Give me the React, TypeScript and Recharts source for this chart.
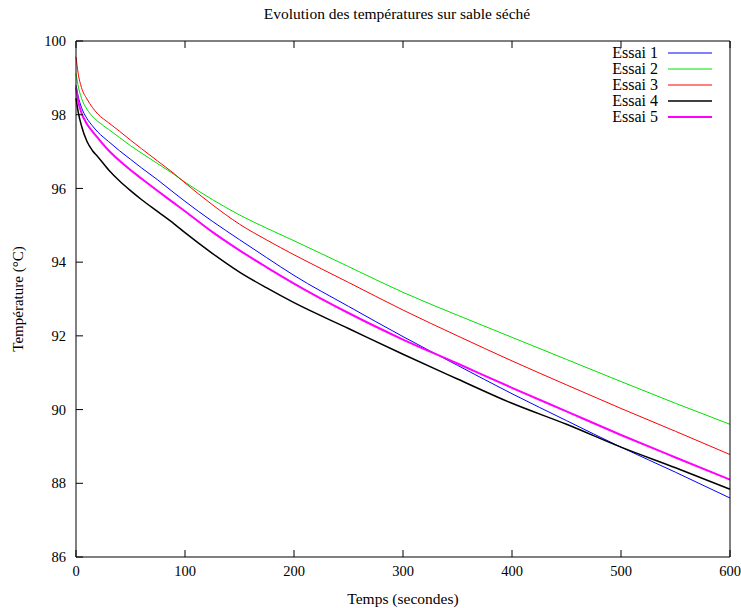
import { Legend, Line, LineChart, XAxis, YAxis } from "recharts";

const FONT = "'Liberation Serif', 'DejaVu Serif', serif";

// cadre du tracé (px) : sert aux petites graduations intérieures façon gnuplot
const PLOT = { left: 76, right: 730, top: 41, bottom: 557 };
const TICK = 7;

// Temps (s) des points relevés
const temps = [
  0, 2, 5, 10, 15, 20, 30, 40, 50, 60, 75, 90, 100, 125, 150, 175, 200, 250,
  300, 350, 400, 450, 500, 550, 600,
];

// Températures (°C) par essai
const essai1 = [
  98.8, 98.5, 98.2, 97.9, 97.7, 97.53, 97.27, 97.02, 96.79, 96.56, 96.23, 95.88,
  95.65, 95.11, 94.61, 94.12, 93.64, 92.8, 91.98, 91.2, 90.43, 89.7, 88.98,
  88.3, 87.6,
];
const essai2 = [
  99.12, 98.78, 98.45, 98.15, 97.96, 97.82, 97.6, 97.38, 97.16, 96.96, 96.67,
  96.38, 96.17, 95.7, 95.28, 94.92, 94.58, 93.88, 93.18, 92.56, 91.96, 91.36,
  90.76, 90.17, 89.6,
];
const essai3 = [
  99.57, 99.12, 98.74, 98.43, 98.2, 98.02, 97.78, 97.55, 97.31, 97.08, 96.74,
  96.4, 96.15, 95.56, 95.03, 94.6, 94.2, 93.45, 92.7, 92.0, 91.32, 90.67,
  90.03, 89.41, 88.78,
];
const essai4 = [
  98.45, 98.08, 97.7, 97.28, 97.03, 96.86, 96.5, 96.2, 95.94, 95.7, 95.37,
  95.04, 94.8, 94.24, 93.73, 93.3, 92.9, 92.2, 91.5, 90.83, 90.17, 89.6,
  88.98, 88.42, 87.84,
];
const essai5 = [
  98.74, 98.37, 98.05, 97.75, 97.55, 97.37, 97.03, 96.75, 96.5, 96.27, 95.93,
  95.6, 95.38, 94.82, 94.32, 93.86, 93.42, 92.62, 91.9, 91.25, 90.59, 89.95,
  89.31, 88.7, 88.1,
];

const xTicks = [0, 100, 200, 300, 400, 500, 600];
const yTicks = [86, 88, 90, 92, 94, 96, 98, 100];

const series = [
  { key: "essai1", name: "Essai 1", values: essai1, color: "#0000ff", width: 1 },
  { key: "essai2", name: "Essai 2", values: essai2, color: "#00e000", width: 1 },
  { key: "essai3", name: "Essai 3", values: essai3, color: "#ff0000", width: 1 },
  { key: "essai4", name: "Essai 4", values: essai4, color: "#000000", width: 1.5 },
  { key: "essai5", name: "Essai 5", values: essai5, color: "#ff00ff", width: 2 },
];

const data = temps.map((t, i) => {
  const row: Record<string, number> = { t };
  series.forEach((s) => {
    row[s.key] = s.values[i];
  });
  return row;
});

const textStyle = { fontSize: 14.5, fill: "#000", fontFamily: FONT };

interface TickProps {
  x?: number;
  y?: number;
  payload?: { value: number; coordinate: number };
}

function BottomTick({ x = 0, y = 0, payload }: TickProps) {
  return (
    <g>
      <line
        x1={x}
        y1={PLOT.bottom}
        x2={x}
        y2={PLOT.bottom - TICK}
        stroke="#000"
        strokeWidth={1}
      />
      <text x={x} y={y} dy="0.71em" textAnchor="middle" {...textStyle}>
        {payload?.value}
      </text>
    </g>
  );
}

function TopTick({ x = 0 }: TickProps) {
  return (
    <line
      x1={x}
      y1={PLOT.top}
      x2={x}
      y2={PLOT.top + TICK}
      stroke="#000"
      strokeWidth={1}
    />
  );
}

function LeftTick({ x = 0, y = 0, payload }: TickProps) {
  return (
    <g>
      <line
        x1={PLOT.left}
        y1={y}
        x2={PLOT.left + TICK}
        y2={y}
        stroke="#000"
        strokeWidth={1}
      />
      <text x={x} y={y} dy="0.355em" textAnchor="end" {...textStyle}>
        {payload?.value}
      </text>
    </g>
  );
}

function RightTick({ y = 0 }: TickProps) {
  return (
    <line
      x1={PLOT.right}
      y1={y}
      x2={PLOT.right - TICK}
      y2={y}
      stroke="#000"
      strokeWidth={1}
    />
  );
}

// légende façon gnuplot : libellé aligné à droite puis échantillon de trait
function GnuplotLegend() {
  return (
    <div style={{ fontFamily: FONT, fontSize: 16, color: "#000" }}>
      {series.map((s) => (
        <div
          key={s.key}
          style={{
            display: "flex",
            alignItems: "center",
            justifyContent: "flex-end",
            height: 16,
          }}
        >
          <span>{s.name}</span>
          <svg width={44} height={4} style={{ marginLeft: 10 }}>
            <line
              x1={0}
              y1={2}
              x2={44}
              y2={2}
              stroke={s.color}
              strokeWidth={s.width}
            />
          </svg>
        </div>
      ))}
    </div>
  );
}

export default function App() {
  return (
    <div
      style={{
        position: "absolute",
        left: 0,
        top: 0,
        width: 741,
        height: 608,
        background: "#fff",
        fontFamily: FONT,
      }}
    >
      <div
        style={{
          position: "absolute",
          top: 4,
          left: 0,
          width: 794,
          textAlign: "center",
          fontSize: 15.5,
          lineHeight: "20px",
          color: "#000",
        }}
      >
        Evolution des températures sur sable séché
      </div>
      <LineChart
        width={741}
        height={608}
        data={data}
        margin={{ top: 40, right: 10, bottom: 0, left: 0 }}
      >
        <XAxis
          dataKey="t"
          type="number"
          domain={[0, 600]}
          ticks={xTicks}
          interval={0}
          height={51}
          stroke="#000"
          tickLine={false}
          tickSize={0}
          tickMargin={9}
          tick={<BottomTick />}
          label={{
            value: "Temps (secondes)",
            position: "insideBottom",
            offset: 4,
            style: { fontSize: 15.5, fill: "#000", fontFamily: FONT },
          }}
        />
        <XAxis
          xAxisId="top"
          orientation="top"
          dataKey="t"
          type="number"
          domain={[0, 600]}
          ticks={xTicks}
          interval={0}
          height={1}
          stroke="#000"
          tickLine={false}
          tick={<TopTick />}
        />
        <YAxis
          type="number"
          domain={[86, 100]}
          ticks={yTicks}
          interval={0}
          width={76}
          stroke="#000"
          tickLine={false}
          tickSize={0}
          tickMargin={10}
          tick={<LeftTick />}
          label={{
            value: "Température (°C)",
            angle: -90,
            position: "insideLeft",
            offset: 18,
            style: {
              fontSize: 15,
              fill: "#000",
              fontFamily: FONT,
              textAnchor: "middle",
            },
          }}
        />
        <YAxis
          yAxisId="right"
          orientation="right"
          type="number"
          domain={[86, 100]}
          ticks={yTicks}
          interval={0}
          width={1}
          stroke="#000"
          tickLine={false}
          tick={<RightTick />}
        />
        <Legend
          layout="horizontal"
          verticalAlign="middle"
          align="center"
          content={<GnuplotLegend />}
          wrapperStyle={{ top: 45, left: 590, width: 122 }}
        />
        {series.map((s) => (
          <Line
            key={s.key}
            dataKey={s.key}
            name={s.name}
            type="monotone"
            stroke={s.color}
            strokeWidth={s.width}
            dot={false}
            activeDot={false}
            isAnimationActive={false}
          />
        ))}
      </LineChart>
    </div>
  );
}
